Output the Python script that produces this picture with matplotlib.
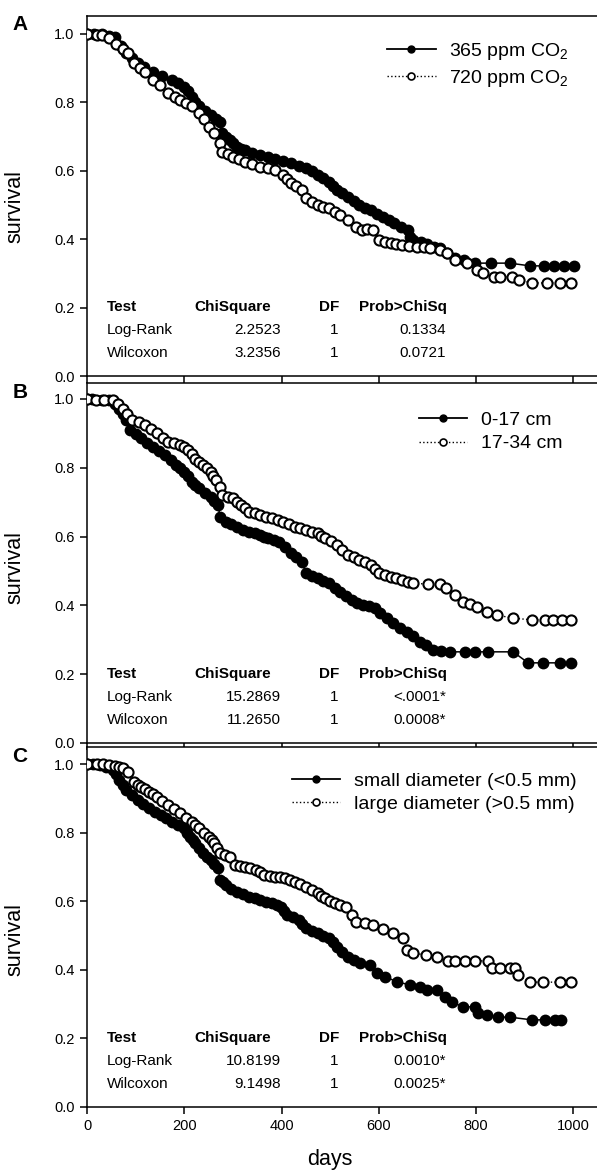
import matplotlib
matplotlib.use("Agg")
import matplotlib.pyplot as plt
from matplotlib.lines import Line2D

plt.rcParams.update({
    "font.family": ["Liberation Sans", "DejaVu Sans"],
    "mathtext.fontset": "custom",
    "mathtext.rm": "Liberation Sans",
    "mathtext.default": "regular",
    "axes.linewidth": 1.1,
})

# ── Data ──────────────────────────────────────────────────────────────────
# Panel A: CO2 treatment
a_365_days = [0, 15, 30, 45, 57, 70, 81, 92, 104, 118, 136, 155, 175, 188, 199, 207,
              215, 223, 230, 242, 254, 265, 273, 277, 285, 293, 301, 309, 317, 325,
              340, 356, 372, 387, 403, 419, 435, 450, 462, 474, 486, 497, 505, 513,
              525, 537, 548, 560, 572, 584, 596, 608, 620, 631, 645, 659, 664, 671,
              686, 700, 713, 726, 741, 757, 775, 797, 830, 869, 911, 939, 960, 980, 1001]
a_365_surv = [1.0, 1.0, 1.0, 0.995, 0.99, 0.965, 0.943, 0.93, 0.914, 0.903, 0.89, 0.878,
              0.865, 0.856, 0.846, 0.832, 0.817, 0.80, 0.788, 0.775, 0.763, 0.752, 0.744,
              0.71, 0.70, 0.69, 0.68, 0.67, 0.664, 0.66, 0.652, 0.646, 0.64, 0.634, 0.628,
              0.622, 0.615, 0.607, 0.598, 0.588, 0.578, 0.568, 0.556, 0.544, 0.534, 0.524,
              0.512, 0.50, 0.492, 0.485, 0.475, 0.466, 0.456, 0.446, 0.437, 0.427, 0.405,
              0.398, 0.393, 0.385, 0.378, 0.373, 0.36, 0.344, 0.338, 0.33, 0.33, 0.33,
              0.322, 0.322, 0.322, 0.322, 0.322]
a_720_days = [0, 20, 30, 45, 60, 75, 85, 97, 108, 120, 136, 150, 167, 180, 191, 203, 215,
              230, 240, 250, 262, 273, 277, 289, 301, 313, 325, 340, 356, 372, 387, 403,
              411, 419, 430, 442, 450, 462, 474, 486, 497, 509, 521, 537, 553, 565, 576,
              588, 600, 612, 624, 636, 647, 663, 679, 693, 706, 726, 741, 757, 781, 802,
              815, 836, 849, 873, 888, 914, 945, 972, 996]
a_720_surv = [1.0, 0.998, 0.996, 0.987, 0.97, 0.955, 0.943, 0.914, 0.90, 0.89, 0.866,
              0.85, 0.827, 0.817, 0.807, 0.797, 0.788, 0.768, 0.75, 0.729, 0.71, 0.68,
              0.656, 0.65, 0.641, 0.634, 0.627, 0.62, 0.612, 0.607, 0.602, 0.588, 0.575,
              0.563, 0.555, 0.544, 0.519, 0.51, 0.50, 0.495, 0.49, 0.48, 0.471, 0.456,
              0.437, 0.427, 0.43, 0.427, 0.398, 0.393, 0.388, 0.385, 0.383, 0.38, 0.378,
              0.376, 0.373, 0.368, 0.359, 0.339, 0.329, 0.31, 0.302, 0.29, 0.29, 0.29,
              0.281, 0.272, 0.272, 0.272, 0.272]

# Panel B: soil depth
b_shallow_days = [0, 10, 30, 45, 57, 65, 73, 81, 89, 100, 112, 124, 136, 148, 160, 172,
                  183, 191, 199, 207, 215, 222, 230, 242, 254, 262, 270, 273, 285, 297,
                  309, 321, 333, 345, 356, 364, 372, 384, 395, 407, 419, 430, 442, 450,
                  462, 474, 486, 497, 509, 521, 533, 545, 556, 568, 580, 592, 602, 616,
                  630, 644, 657, 670, 684, 698, 711, 728, 746, 777, 798, 824, 876, 907,
                  937, 972, 995]
b_shallow_surv = [1.0, 1.0, 0.998, 0.996, 0.985, 0.97, 0.955, 0.94, 0.91, 0.898, 0.886,
                  0.873, 0.861, 0.849, 0.837, 0.822, 0.808, 0.798, 0.789, 0.775, 0.76,
                  0.75, 0.74, 0.728, 0.716, 0.704, 0.692, 0.658, 0.643, 0.636, 0.629,
                  0.62, 0.614, 0.61, 0.605, 0.60, 0.595, 0.59, 0.585, 0.571, 0.551, 0.54,
                  0.527, 0.493, 0.486, 0.479, 0.472, 0.464, 0.452, 0.44, 0.428, 0.416,
                  0.408, 0.401, 0.398, 0.392, 0.377, 0.362, 0.348, 0.335, 0.323, 0.31,
                  0.294, 0.285, 0.27, 0.267, 0.265, 0.265, 0.265, 0.265, 0.265, 0.233,
                  0.233, 0.233, 0.233]
b_deep_days = [0, 18, 34, 53, 63, 73, 82, 92, 106, 120, 132, 144, 156, 167, 179, 191,
               199, 207, 215, 222, 230, 238, 246, 254, 260, 266, 273, 277, 289, 301, 309,
               317, 325, 333, 345, 356, 368, 380, 392, 403, 415, 427, 438, 450, 462, 474,
               482, 490, 501, 513, 525, 537, 548, 560, 572, 584, 592, 600, 612, 624, 636,
               647, 659, 671, 702, 726, 738, 757, 773, 787, 801, 822, 842, 876, 914, 941,
               958, 976, 995]
b_deep_surv = [1.0, 0.996, 0.996, 0.996, 0.985, 0.97, 0.955, 0.94, 0.932, 0.924, 0.912,
               0.90, 0.888, 0.876, 0.871, 0.866, 0.86, 0.852, 0.84, 0.827, 0.818, 0.808,
               0.80, 0.789, 0.777, 0.765, 0.745, 0.721, 0.716, 0.711, 0.702, 0.692,
               0.682, 0.672, 0.668, 0.663, 0.658, 0.653, 0.648, 0.643, 0.636, 0.629,
               0.624, 0.619, 0.614, 0.61, 0.603, 0.595, 0.586, 0.576, 0.562, 0.547,
               0.54, 0.532, 0.525, 0.517, 0.505, 0.493, 0.488, 0.484, 0.479, 0.474,
               0.469, 0.464, 0.462, 0.462, 0.45, 0.43, 0.41, 0.405, 0.396, 0.381, 0.372,
               0.363, 0.358, 0.358, 0.358, 0.358, 0.358]

# Panel C: root diameter
c_small_days = [0, 13, 26, 40, 53, 60, 65, 73, 81, 92, 104, 116, 128, 140, 152, 163, 175,
                187, 199, 205, 211, 217, 222, 230, 238, 246, 254, 262, 270, 273, 279, 285,
                297, 309, 321, 333, 345, 356, 368, 380, 390, 399, 405, 411, 423, 435, 442,
                450, 462, 474, 486, 497, 505, 513, 525, 537, 548, 561, 582, 596, 613, 637,
                664, 685, 699, 719, 736, 750, 773, 798, 804, 822, 845, 869, 915, 941, 962,
                975]
c_small_surv = [1.0, 1.0, 0.997, 0.99, 0.984, 0.97, 0.953, 0.94, 0.924, 0.91, 0.895,
                0.883, 0.871, 0.861, 0.851, 0.842, 0.832, 0.822, 0.812, 0.80, 0.788,
                0.778, 0.769, 0.755, 0.74, 0.73, 0.72, 0.708, 0.696, 0.662, 0.655, 0.647,
                0.637, 0.628, 0.62, 0.613, 0.608, 0.603, 0.598, 0.594, 0.59, 0.584,
                0.572, 0.56, 0.553, 0.545, 0.533, 0.521, 0.513, 0.506, 0.499, 0.492,
                0.48, 0.467, 0.452, 0.438, 0.43, 0.42, 0.414, 0.39, 0.38, 0.365, 0.356,
                0.35, 0.341, 0.341, 0.321, 0.306, 0.292, 0.292, 0.274, 0.268, 0.262,
                0.262, 0.254, 0.254, 0.254, 0.254]
c_large_days = [0, 20, 33, 45, 57, 65, 73, 85, 97, 104, 112, 120, 128, 136, 144, 155, 167,
                179, 191, 203, 215, 222, 230, 240, 250, 256, 262, 268, 273, 283, 293, 305,
                315, 325, 336, 348, 356, 364, 376, 387, 397, 407, 417, 427, 438, 450, 462,
                474, 482, 490, 500, 509, 521, 533, 545, 553, 571, 588, 609, 630, 649, 658,
                670, 698, 719, 742, 756, 777, 798, 825, 832, 849, 869, 880, 886, 911, 938,
                972, 996]
c_large_surv = [1.0, 1.0, 1.0, 0.998, 0.995, 0.99, 0.987, 0.978, 0.948, 0.94, 0.934,
                0.926, 0.919, 0.912, 0.905, 0.893, 0.88, 0.868, 0.856, 0.844, 0.832,
                0.822, 0.812, 0.80, 0.788, 0.778, 0.769, 0.755, 0.74, 0.735, 0.73, 0.706,
                0.704, 0.701, 0.696, 0.691, 0.684, 0.676, 0.674, 0.672, 0.67, 0.667,
                0.662, 0.657, 0.65, 0.642, 0.632, 0.623, 0.615, 0.608, 0.60, 0.594,
                0.589, 0.584, 0.56, 0.54, 0.536, 0.53, 0.519, 0.507, 0.493, 0.458, 0.449,
                0.443, 0.437, 0.426, 0.426, 0.426, 0.426, 0.426, 0.405, 0.405, 0.405,
                0.405, 0.385, 0.364, 0.364, 0.364, 0.364]

legend_labels = [["365 ppm CO$_2$", "720 ppm CO$_2$"],
                 ["0-17 cm", "17-34 cm"],
                 ["small diameter (<0.5 mm)", "large diameter (>0.5 mm)"]]

test_names = ["Log-Rank", "Wilcoxon"]
chi_values = [["2.2523", "3.2356"], ["15.2869", "11.2650"], ["10.8199", "9.1498"]]
df_values = ["1", "1"]
prob_values = [["0.1334", "0.0721"], ["<.0001*", "0.0008*"], ["0.0010*", "0.0025*"]]

panel_letters = ["A", "B", "C"]


def main():
    W, H = 597, 1172
    fig = plt.figure(figsize=(W / 100, H / 100), dpi=100)

    # axes boxes in pixels (top, bottom) and y upper limits
    boxes = [(16, 376), (383, 743), (747, 1107)]
    ytops = [1.0526, 1.0465, 1.0496]
    leg_anchor = [(0.93, 0.93), (0.918, 0.921), (0.945, 0.93)]
    ylab_y = [206, 567, 940]
    letter_y = [25, 392, 757]

    series = [
        (a_365_days, a_365_surv, a_720_days, a_720_surv),
        (b_shallow_days, b_shallow_surv, b_deep_days, b_deep_surv),
        (c_small_days, c_small_surv, c_large_days, c_large_surv),
    ]

    fs_tab = 11
    for i, (top, bot) in enumerate(boxes):
        ax = fig.add_axes([87 / W, 1 - bot / H, 518 / W, (bot - top) / H])
        d1, s1, d2, s2 = series[i]

        ax.plot(d1, s1, "-", color="black", lw=1.1, marker="o", ms=7.3,
                mfc="black", mec="black", mew=1.2, zorder=3)
        ax.plot(d2, s2, ":", color="black", lw=1.0, marker="o", ms=7.3,
                mfc="white", mec="black", mew=1.5, zorder=4)

        ax.set_xlim(0, 1065)
        ax.set_ylim(0, ytops[i])
        ax.set_xticks([0, 200, 400, 600, 800, 1000])
        ax.set_yticks([0.0, 0.2, 0.4, 0.6, 0.8, 1.0])
        ax.set_yticklabels(["0.0", "0.2", "0.4", "0.6", "0.8", "1.0"])
        ax.tick_params(direction="out", length=5, width=1.1, labelsize=10.5, pad=4)
        if i < 2:
            ax.tick_params(axis="x", labelbottom=False)

        # legend
        handles = [
            Line2D([], [], color="black", lw=1.3, ls="-", marker="o", ms=5,
                   mfc="black", mec="black"),
            Line2D([], [], color="black", lw=1.0, ls=":", marker="o", ms=5,
                   mfc="white", mec="black", mew=1.2),
        ]
        ax.legend(handles, legend_labels[i], loc="upper right",
                  bbox_to_anchor=leg_anchor[i], frameon=False, fontsize=14,
                  borderpad=0, borderaxespad=0, handlelength=2.5,
                  handletextpad=0.7, labelspacing=0.3, numpoints=1)

        # log-rank / wilcoxon table
        tr = ax.get_xaxis_transform()
        rows_y = [0.191, 0.128, 0.065]
        ax.text(41, rows_y[0], "Test", transform=tr, fontsize=fs_tab,
                fontweight="bold", va="center", ha="left")
        ax.text(220, rows_y[0], "ChiSquare", transform=tr, fontsize=fs_tab,
                fontweight="bold", va="center", ha="left")
        ax.text(477, rows_y[0], "DF", transform=tr, fontsize=fs_tab,
                fontweight="bold", va="center", ha="left")
        ax.text(559, rows_y[0], "Prob>ChiSq", transform=tr, fontsize=fs_tab,
                fontweight="bold", va="center", ha="left")
        for r in range(2):
            y = rows_y[r + 1]
            ax.text(41, y, test_names[r], transform=tr, fontsize=fs_tab,
                    va="center", ha="left")
            ax.text(399, y, chi_values[i][r], transform=tr, fontsize=fs_tab,
                    va="center", ha="right")
            ax.text(516, y, df_values[r], transform=tr, fontsize=fs_tab,
                    va="center", ha="right")
            ax.text(738, y, prob_values[i][r], transform=tr, fontsize=fs_tab,
                    va="center", ha="right")

        fig.text(15 / W, 1 - ylab_y[i] / H, "survival", rotation=90,
                 ha="center", va="center", fontsize=15.5)
        fig.text(20 / W, 1 - letter_y[i] / H, panel_letters[i],
                 ha="center", va="center", fontsize=15, fontweight="bold")

    fig.text(330 / W, 1 - 1160 / H, "days", ha="center", va="center", fontsize=15.5)

    fig.savefig("out.png", dpi=100)


if __name__ == "__main__":
    main()
